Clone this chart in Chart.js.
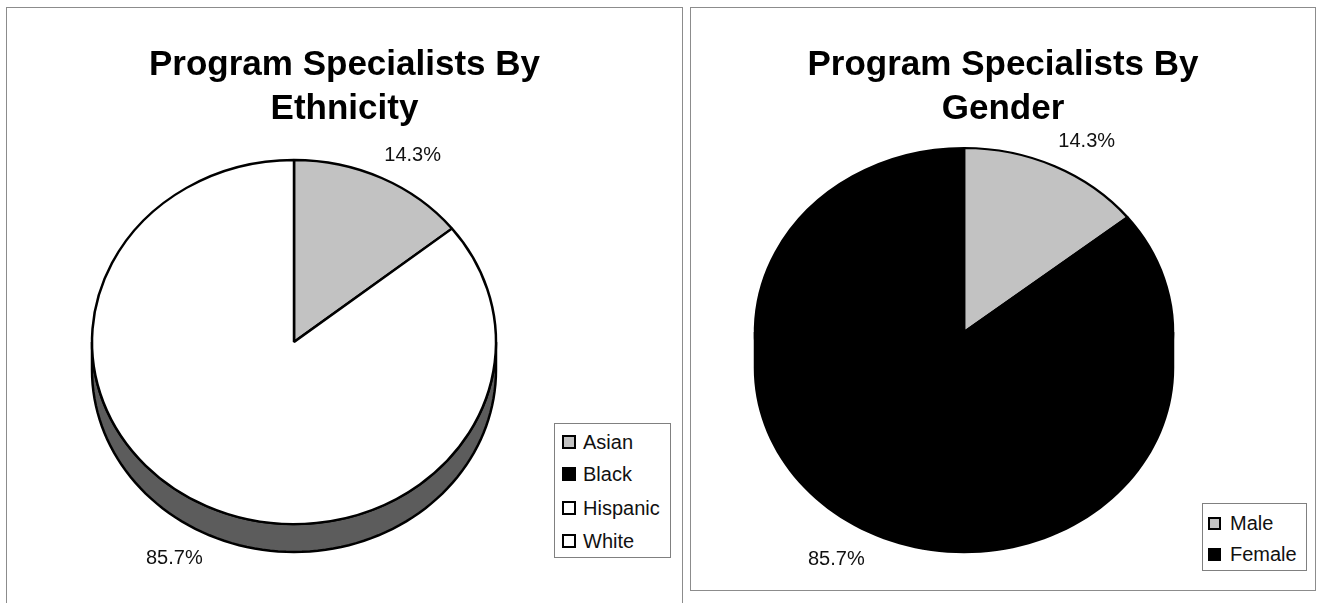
<!DOCTYPE html>
<html><head><meta charset="utf-8">
<script src="https://cdn.jsdelivr.net/npm/chart.js@4/dist/chart.umd.min.js"></script>
<style>
html,body{margin:0;padding:0;background:#fff;width:1317px;height:603px;overflow:hidden;font-family:"Liberation Sans",Arial,sans-serif;}
.frame{position:absolute;border:1px solid #8c8c8c;box-sizing:border-box;}
canvas{position:absolute;top:0;}
.title{position:absolute;text-align:center;font-weight:bold;font-size:35px;line-height:44px;color:#000;}
.legend{position:absolute;border:1px solid #808080;box-sizing:border-box;background:#fff;}
.item{position:absolute;font-size:20px;line-height:20px;color:#111;white-space:nowrap;}
.sw{position:absolute;border:2px solid #000;box-sizing:border-box;}
</style>
</head><body>
<div class="frame" style="left:6px;top:7px;width:677px;height:640px;"></div>
<div class="frame" style="left:690px;top:7px;width:626px;height:584px;"></div>
<canvas id="c1" width="686" height="603" style="left:0px"></canvas>
<canvas id="c2" width="631" height="603" style="left:686px"></canvas>
<div class="title" style="left:6px;top:41px;width:677px;">Program Specialists By<br>Ethnicity</div>
<div class="title" style="left:690px;top:41px;width:626px;">Program Specialists By<br>Gender</div>
<div class="legend" id="lg1" style="left:554px;top:423px;width:117px;height:135px;"></div>
<div class="legend" id="lg2" style="left:1202px;top:503px;width:105px;height:68px;"></div>
<script>
// ---- data ----
const ethnicityLabels = ['Asian', 'Black', 'Hispanic', 'White'];
const ethnicityCounts = [1, 0, 0, 6];
const genderLabels = ['Male', 'Female'];
const genderCounts = [1, 6];

// ---- styles ----
const ethnicityColors = ['#c2c2c2', '#000000', '#ffffff', '#ffffff'];
const ethnicitySide = ['#6a6a6a', '#000000', '#5c5c5c', '#5c5c5c'];
const genderColors = ['#c2c2c2', '#000000'];
const genderSide = ['#6a6a6a', '#000000'];

const pie3d = {
  id: 'pie3d',
  beforeDatasetsDraw(chart, args, o) {
    const ctx = chart.ctx;
    const meta = chart.getDatasetMeta(0);
    const k = o.ry / o.rx;
    ctx.save();
    meta.data.forEach((arc, i) => {
      const p = arc.getProps(['x','y','startAngle','endAngle','outerRadius'], true);
      const R = p.outerRadius;
      [[0, Math.PI], [2*Math.PI, 3*Math.PI], [-2*Math.PI, -Math.PI]].forEach(([lo, hi]) => {
        const a = Math.max(p.startAngle, lo), b = Math.min(p.endAngle, hi);
        if (b <= a) return;
        const N = 80;
        ctx.beginPath();
        for (let j = 0; j <= N; j++) {
          const t = a + (b - a) * j / N;
          const px = p.x + R * Math.cos(t), py = p.y + R * k * Math.sin(t);
          j ? ctx.lineTo(px, py) : ctx.moveTo(px, py);
        }
        for (let j = N; j >= 0; j--) {
          const t = a + (b - a) * j / N;
          ctx.lineTo(p.x + R * Math.cos(t), p.y + R * k * Math.sin(t) + o.depth);
        }
        ctx.closePath();
        ctx.fillStyle = o.side[i];
        ctx.fill();
        ctx.lineWidth = 2.5;
        ctx.strokeStyle = '#000';
        ctx.stroke();
      });
    });
    const c = meta.data[0];
    ctx.translate(c.x, c.y);
    ctx.scale(1, k);
    ctx.translate(-c.x, -c.y);
  },
  afterDatasetsDraw(chart, args, o) {
    const ctx = chart.ctx;
    ctx.restore();
    const meta = chart.getDatasetMeta(0);
    const data = chart.data.datasets[0].data;
    const total = data.reduce((s, v) => s + v, 0);
    const k = o.ry / o.rx;
    ctx.save();
    ctx.font = '20px "Liberation Sans", Arial, sans-serif';
    ctx.fillStyle = '#111';
    ctx.textAlign = 'center';
    ctx.textBaseline = 'alphabetic';
    meta.data.forEach((arc, i) => {
      if (!data[i]) return;
      const p = arc.getProps(['x','y','startAngle','endAngle','outerRadius'], true);
      const m = (p.startAngle + p.endAngle) / 2;
      const ex = p.x + p.outerRadius * Math.cos(m);
      const ey = p.y + p.outerRadius * k * Math.sin(m);
      const off = o.labelOffsets[i];
      ctx.fillText((data[i] / total * 100).toFixed(1) + '%', ex + off[0], ey + off[1] + 7);
    });
    ctx.restore();
  }
};

function makePie(id, W, H, cx, cy, rx, ry, depth, labels, counts, colors, side, offsets) {
  new Chart(document.getElementById(id), {
    type: 'pie',
    data: { labels, datasets: [{ data: counts, backgroundColor: colors, borderColor: '#000', borderWidth: 2.5, radius: rx }] },
    options: {
      responsive: false, animation: false, devicePixelRatio: 1,
      layout: { padding: { left: cx - rx, right: W - cx - rx, top: cy - rx, bottom: H - cy - rx } },
      plugins: {
        legend: { display: false }, title: { display: false }, tooltip: { enabled: false },
        pie3d: { rx, ry, depth, side, labelOffsets: offsets }
      }
    },
    plugins: [pie3d]
  });
}

makePie('c1', 686, 603, 294, 342, 202, 182, 28, ethnicityLabels, ethnicityCounts, ethnicityColors, ethnicitySide,
  [[31, -24], [0, 0], [0, 0], [-32, 51]]);
makePie('c2', 631, 603, 964 - 686, 332, 209, 184, 36, genderLabels, genderCounts, genderColors, genderSide,
  [[32, -26], [-37, 60]]);

function makeLegend(id, labels, colors, sq, sqLeft, textLeft, centers) {
  const box = document.getElementById(id);
  const bx = box.offsetLeft, by = box.offsetTop;
  labels.forEach((l, i) => {
    const s = document.createElement('div');
    s.className = 'sw';
    s.style.cssText = `left:${sqLeft - bx}px;top:${centers[i] - sq/2 - by}px;width:${sq}px;height:${sq}px;background:${colors[i]};`;
    box.appendChild(s);
    const t = document.createElement('div');
    t.className = 'item';
    t.textContent = l;
    t.style.cssText = `left:${textLeft - bx}px;top:${centers[i] - 10 - by}px;`;
    box.appendChild(t);
  });
}
makeLegend('lg1', ethnicityLabels, ethnicityColors, 14, 561, 582, [441, 473, 507, 540]);
makeLegend('lg2', genderLabels, genderColors, 13, 1207, 1229, [522, 553]);
</script>
</body></html>
